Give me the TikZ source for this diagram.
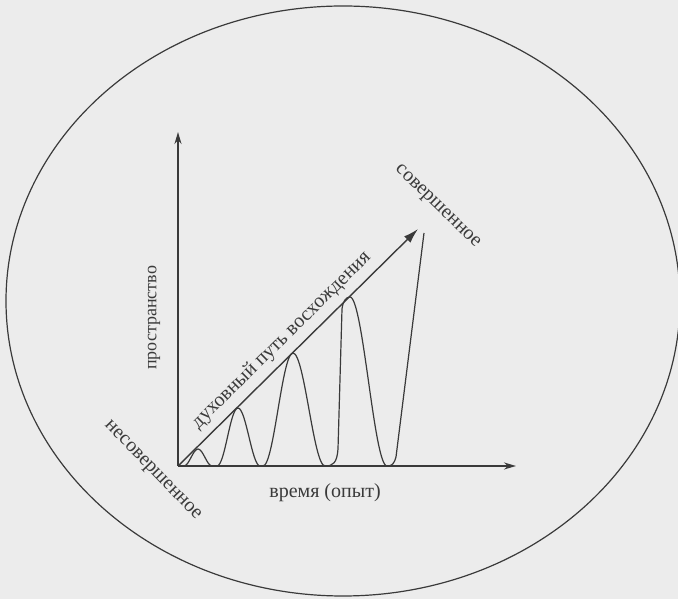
\documentclass[tikz,border=0pt]{standalone}
\usepackage{fontspec}
\setmainfont{Liberation Serif}
\usepackage{xcolor}
\usepackage{tikz}
\usetikzlibrary{arrows.meta}
\definecolor{Ink}{RGB}{58,58,58}
\definecolor{Paper}{RGB}{236,236,236}
\tikzset{
  axisline/.style={-{Stealth[length=12pt,width=7pt]},line width=1.8pt,draw=Ink},
  pathline/.style={-{Latex[length=15pt,width=9pt]},line width=1.4pt,draw=Ink},
  wave/.style={line width=1.2pt,draw=Ink,line join=round},
  frame/.style={line width=1.2pt,draw=Ink},
  lbl/.style={text=Ink,inner sep=1pt,font=\fontsize{20}{23}\selectfont}
}
\begin{document}
\begin{tikzpicture}[x=1pt,y=1pt]
\fill[Paper] (0,0) rectangle (678,599);
\useasboundingbox (0,0) rectangle (678,599);
\draw[frame] (343,298) ellipse [x radius=337,y radius=295];
% axes
\coordinate (O) at (178,133);
\coordinate (ytip) at (178,467);
\coordinate (xtip) at (516,133);
\coordinate (ptip) at (418,370);
\draw[axisline] (O)--(ytip); \draw[axisline] (O)--(xtip);
% the rising waves
\draw[wave] (184,133) .. controls (189,133) and (193,150) .. (198,150) .. controls (203,150) and (207,133) .. (212,133) -- (217,133)
  .. controls (225,133) and (230,191) .. (238,191) .. controls (246,191) and (252,133) .. (260,133) -- (263,133)
  .. controls (274,133) and (282,246) .. (293,246) .. controls (304.5,246) and (313.5,133) .. (325,133)
  .. controls (333,133) and (337,136) .. (338,150) -- (342,290) .. controls (343,298) and (346,302) .. (350,302)
  .. controls (363,302) and (374,133) .. (387,133) .. controls (392,133) and (394,135) .. (396,142) -- (424,366);
\draw[pathline] (O)--(ptip) node[lbl,pos=0.48,sloped,above=6pt] (ascent) {духовный путь восхождения};
% labels
\node[lbl,font=\fontsize{18}{21}\selectfont,rotate=90] (space) at (154,281) {пространство};
\node[lbl] (time) at (325,106) {время (опыт)};
\node[lbl,rotate=-44] (perfect) at (437,392) {совершенное};
\node[lbl,rotate=-46] (imperfect) at (152,128) {несовершенное};
\end{tikzpicture}
\end{document}
